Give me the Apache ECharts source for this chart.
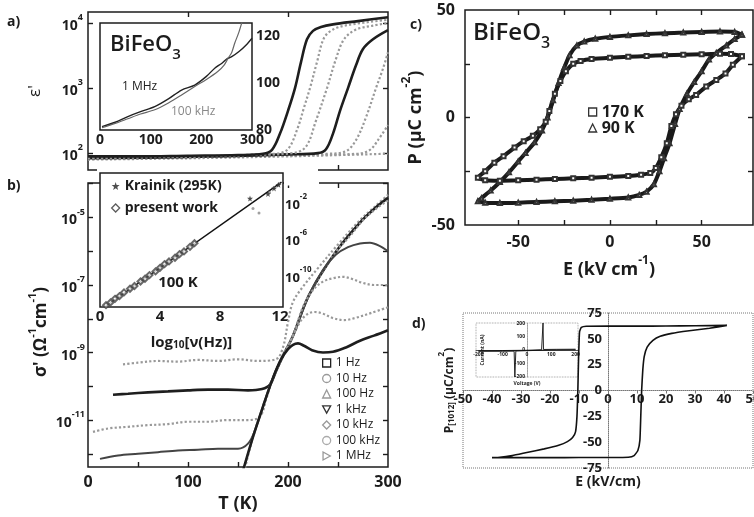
<!DOCTYPE html>
<html>
<head>
<meta charset="utf-8">
<script src="https://cdn.jsdelivr.net/npm/echarts@6/dist/echarts.min.js"></script>
<style>
html, body { margin: 0; padding: 0; background: #fff; }
#main { width: 754px; height: 517px; }
</style>
</head>
<body>
<div id="main"></div>
<script>
// ---- a) eps' vs T, pairs are [T (K), log10 eps'] ----
var eps1Hz = [[0,1.95],[50,1.95],[100,1.96],[150,1.97],[175,1.99],[184,2.05],[192,2.3],[200,2.65],[207,3.0],[213,3.4],[219,3.75],[225,3.88],[233,3.94],[245,3.98],[270,4.03],[300,4.09]];
var eps10Hz = [[0,1.93],[60,1.94],[120,1.95],[170,1.98],[192,2.0],[201,2.08],[210,2.4],[216,2.7],[222,3.0],[229,3.4],[236,3.77],[245,3.9],[260,3.97],[300,4.05]];
var eps100Hz = [[0,1.92],[80,1.94],[160,1.97],[205,2.0],[218,2.1],[228,2.5],[239,3.0],[248,3.45],[256,3.75],[268,3.9],[285,3.96],[300,4.0]];
var eps1kHz = [[0,1.92],[100,1.94],[200,1.98],[230,2.0],[238,2.06],[245,2.3],[252,2.65],[260,3.0],[268,3.35],[275,3.6],[285,3.75],[300,3.89]];
var eps10kHz = [[0,1.91],[120,1.94],[240,1.99],[258,2.03],[268,2.2],[278,2.55],[288,3.0],[295,3.3],[300,3.55]];
var eps100kHz = [[0,1.91],[150,1.95],[270,1.99],[282,2.05],[290,2.2],[300,2.43]];
var eps1MHz = [[0,1.9],[100,1.92],[200,1.95],[300,1.99]];

// inset of a): eps' (linear) vs T
var inset1MHz = [[4,81.4],[30,83.3],[55,85.7],[80,87.8],[108,89.9],[135,93.2],[161,97],[187,99.1],[210,102.8],[227,106.4],[240,108.3],[250,110.2],[260,111.2],[275,113.5],[290,116.5],[300,119]];
var inset100kHz = [[4,81.0],[30,82.8],[55,84.8],[80,86.8],[108,88.6],[135,91.5],[161,94.9],[187,98.5],[210,101.5],[233,105],[245,107.6],[253,110.6],[260,113],[266,117],[274,121.5],[281,126.5]];

// ---- b) sigma' vs T, pairs are [T (K), log10 sigma'] ----
var sig1Hz = [[155,-12.5],[165,-11.5],[175,-10.6],[185,-9.75],[193,-9.2],[200,-8.9],[205,-8.77],[210,-8.73],[216,-8.8],[224,-8.93],[235,-9.0],[245,-8.98],[258,-8.85],[272,-8.65],[286,-8.5],[300,-8.34]];
var sig10Hz = [[156,-12.45],[165,-11.5],[175,-10.6],[185,-9.75],[195,-9.1],[205,-8.5],[213,-8.05],[220,-7.85],[227,-7.8],[235,-7.85],[245,-7.98],[256,-8.04],[268,-7.97],[284,-7.82],[300,-7.66]];
var sig100Hz = [[157,-12.42],[165,-11.5],[175,-10.6],[185,-9.75],[195,-9.1],[205,-8.5],[215,-7.65],[225,-7.15],[235,-6.9],[245,-6.8],[255,-6.76],[264,-6.82],[274,-6.93],[286,-7.0],[300,-7.0]];
var sig1kHz = [[12,-12.15],[30,-12.05],[50,-12.0],[70,-11.95],[90,-11.9],[110,-11.88],[130,-11.85],[150,-11.85],[160,-11.7],[167,-11.3],[175,-10.6],[185,-9.75],[195,-9.1],[205,-8.5],[221,-7.3],[235,-6.55],[248,-6.1],[260,-5.88],[272,-5.77],[282,-5.75],[292,-5.85],[300,-6.0]];
var sig10kHz = [[5,-11.35],[20,-11.25],[40,-11.2],[60,-11.15],[80,-11.12],[100,-11.05],[120,-11.05],[140,-11.0],[160,-11.0],[172,-10.9],[178,-10.4],[185,-9.75],[195,-9.1],[205,-8.5],[221,-7.3],[247,-6.05],[262,-5.55],[276,-5.05],[290,-4.7],[300,-4.5]];
var sig100kHz = [[25,-10.25],[40,-10.22],[60,-10.18],[80,-10.15],[100,-10.12],[120,-10.1],[140,-10.1],[160,-10.12],[174,-10.08],[182,-9.95],[188,-9.55],[195,-9.1],[205,-8.5],[221,-7.3],[247,-6.05],[272,-5.15],[288,-4.7],[300,-4.42]];
var sig1MHz = [[35,-9.35],[50,-9.3],[70,-9.25],[90,-9.27],[110,-9.22],[130,-9.25],[150,-9.2],[170,-9.25],[188,-9.2],[195,-8.85],[200,-8.1],[205,-7.5],[215,-7.05],[230,-6.5],[250,-5.8],[272,-5.08],[288,-4.65],[300,-4.33]];

// inset of b): [log10 nu, log10 sigma'] at 100 K
var fitLine = [[0.3,-13.5],[12.1,0.2]];
var presentWork = [[0.4,-13.3],[0.7,-13.0],[1.0,-12.6],[1.3,-12.3],[1.6,-11.9],[2.0,-11.5],[2.3,-11.2],[2.7,-10.7],[3.0,-10.4],[3.3,-10.0],[3.7,-9.6],[4.0,-9.2],[4.3,-8.8],[4.6,-8.5],[5.0,-8.1],[5.3,-7.7],[5.6,-7.4],[6.0,-6.9],[6.3,-6.5]];
var presentWorkHf = [[10.2,-2.7],[10.6,-3.2],[11.3,-0.9],[11.6,-0.4],[11.9,0.0]];
var krainik = [[10.0,-1.6],[11.2,-1.1],[11.6,-0.5],[11.9,-0.1]];

// ---- c) P-E loops, [E (kV/cm), P (uC/cm2)] ----
var loop170K = [[72,28.5],[66,29.5],[60,29.6],[50,29.4],[40,29.2],[30,29],[20,28.6],[10,28.2],[0,27.8],[-10,27.2],[-16,26.3],[-20,25],[-24,21.5],[-27,17],[-30,11],[-33,3],[-35,-2],[-38,-5.5],[-42,-8.5],[-47,-11],[-52,-14],[-58,-18],[-63,-21],[-68,-25],[-72,-28],[-68,-29.2],[-60,-29.4],[-50,-29.2],[-40,-28.9],[-30,-28.6],[-20,-28.3],[-10,-28],[0,-27.6],[10,-27.2],[17,-26.6],[22,-25.8],[25,-23.5],[28,-18.5],[31,-12],[33.5,-4],[36,1.5],[39,5.5],[43,8.5],[47,10.5],[52.5,14.4],[58,17.5],[63,20.5],[67,24.5],[72,28.5]];
var loop90K = [[72,38.5],[68,39.8],[60,40],[50,39.8],[40,39.5],[30,39.2],[20,38.8],[10,38.2],[0,37.5],[-8,36.6],[-14,35.3],[-18,33.5],[-22,29],[-25,23],[-28,16],[-31,8],[-34,0],[-37,-6],[-41,-11.5],[-46,-16.5],[-50,-20.5],[-55,-25.5],[-60,-30],[-65,-34],[-70,-37.5],[-72,-39],[-68,-39.6],[-60,-39.8],[-50,-39.6],[-40,-39.3],[-30,-39],[-20,-38.7],[-10,-38.3],[0,-37.8],[10,-37.2],[16,-36],[20,-34.5],[24,-31],[27,-25],[29.5,-19],[32.5,-12],[35.5,-3],[38,4],[42,11],[46,16.5],[50,21.5],[54,27],[58,30],[63.5,33.5],[68,36.5],[72,38.5]];

// ---- d) P-E loop and I-V inset ----
var loopD = [[41,63],[30,62.6],[20,62.4],[10,62.3],[0,62.3],[-7.5,62.2],[-9.2,61],[-9.8,57],[-10,45],[-10.2,25],[-10.4,0],[-10.7,-25],[-11.2,-40],[-12.2,-45.5],[-14,-49.5],[-17,-53],[-22,-56.5],[-28,-60],[-33,-63],[-38,-64.8],[-40,-65],[-30,-65],[-20,-65],[-10,-64.9],[0,-64.8],[7,-64.6],[9,-63],[10.3,-58],[11,-48],[11.3,-25],[11.6,0],[12,20],[12.5,33],[13.5,42],[15.5,48.5],[18,52.5],[22,55.3],[28,57.8],[35,60.3],[41,63]];
var ivUp = [[-200,-6],[-100,-4],[0,-2],[60,2],[64,4],[66,205],[68,4],[120,5],[200,6]];
var ivDown = [[200,2],[100,0],[0,-5],[-46,-8],[-50,-205],[-53,-9],[-100,-10],[-200,-10]];

var F = '"Open Sans", "DejaVu Sans", sans-serif';
var INK = '#1c1c1c';

function txt(size, extra) {
  return Object.assign({fontFamily: F, fontWeight: 'bold', fontSize: size, color: INK}, extra || {});
}
function supRich(size) {
  return {
    n: txt(size, {lineHeight: size + 6, verticalAlign: 'bottom'}),
    s: txt(Math.round(size * 0.64), {lineHeight: Math.round(size * 0.64) + 1, verticalAlign: 'top'}),
    sub: txt(Math.round(size * 0.64), {lineHeight: Math.round(size * 0.64) + 1, verticalAlign: 'bottom'})
  };
}
function pow10(v) { return '{n|10}{s|' + v + '}'; }

function ax(grid, min, max, pos, ticks, labels, labelOpt) {
  var a = {
    type: 'value', gridIndex: grid, min: min, max: max, position: pos,
    axisLine: {show: false, onZero: false},
    splitLine: {show: false},
    axisTick: ticks ? {show: true, inside: true, length: 5, customValues: ticks, lineStyle: {color: INK, width: 1.4}} : {show: false},
    axisLabel: {show: false}
  };
  if (labels) {
    a.axisLabel = Object.assign(txt(15, {show: true, customValues: labels, margin: 6}), labelOpt || {});
  }
  return a;
}

function curve(name, data, xi, yi, dark) {
  return {
    type: 'line', name: name, data: data, xAxisIndex: xi, yAxisIndex: yi,
    showSymbol: false, symbol: 'none', smooth: 0.35,
    lineStyle: dark ? {color: '#1e1e1e', width: 2.6} : {color: '#999', width: 2.2, type: 'dotted'}
  };
}

function hollow(icon, c) {
  return {icon: icon, itemStyle: {color: '#fff', borderColor: c, borderWidth: 1.3}};
}

function box(left, top, width, height, extra) {
  return Object.assign({left: left, top: top, width: width, height: height, show: true,
    borderColor: INK, borderWidth: 1.5, backgroundColor: 'transparent',
    containLabel: false, outerBoundsMode: 'none'}, extra || {});
}

var chart = echarts.init(document.getElementById('main'));

var option = {
  animation: false,
  backgroundColor: '#fff',
  textStyle: {fontFamily: F},
  grid: [
    box(88, 12, 300, 158),
    box(100, 23, 152, 107, {backgroundColor: '#fff', z: 1}),
    box(88, 183, 300, 284),
    box(100, 173, 183, 134, {backgroundColor: '#fff', z: 1}),
    box(465, 10, 288, 215),
    box(463, 313, 290, 155, {borderColor: '#777', borderWidth: 1, borderType: 'dotted'}),
    box(476, 323, 102, 54, {borderColor: '#888', borderWidth: 0.8, borderType: 'dotted'})
  ],
  xAxis: [
    ax(0, 0, 300, 'bottom', [50, 100, 150, 200, 250], null),
    ax(0, 0, 300, 'top', [100, 200], null),
    ax(1, 0, 300, 'bottom', [50, 100, 150, 200, 250], [0, 100, 200, 300], {fontSize: 14, margin: 3}),
    Object.assign(ax(2, 0, 300, 'bottom', [50, 100, 150, 200, 250], [0, 100, 200, 300], {fontSize: 16, margin: 7}),
      {name: 'T (K)', nameLocation: 'middle', nameGap: 28, nameTextStyle: txt(18)}),
    ax(2, 0, 300, 'top', [50, 100, 150, 200, 250], null),
    Object.assign(ax(3, 0, 12.2, 'bottom', [4, 8], [0, 4, 8, 12], {fontSize: 15, margin: 2}),
      {name: '{n|log}{sub|10}{n|[ν(Hz)]}', nameLocation: 'middle', nameGap: 22, nameTextStyle: {rich: supRich(15)}}),
    Object.assign(ax(4, -79, 78, 'bottom', [-50, -25, 0, 25, 50], [-50, 0, 50], {fontSize: 16, margin: 9}),
      {name: '{n|E (kV cm}{s|-1}{n|)}', nameLocation: 'middle', nameGap: 30, nameTextStyle: {rich: supRich(18)}}),
    ax(4, -79, 78, 'top', [-50, -25, 0, 25, 50], null),
    {
      // d) axis drawn through P = 0 (grid middle)
      type: 'value', gridIndex: 5, min: -50, max: 50, interval: 10, position: 'bottom', offset: -77.5,
      axisLine: {show: true, onZero: false, lineStyle: {color: '#777', type: 'dotted', width: 1}},
      axisTick: {show: true, length: 3, lineStyle: {color: '#777'}},
      axisLabel: txt(13, {margin: 2}),
      splitLine: {show: false},
      name: 'E (kV/cm)', nameLocation: 'middle', nameGap: 85, nameTextStyle: txt(14)
    },
    {
      type: 'value', gridIndex: 6, min: -210, max: 210, position: 'bottom', offset: -27,
      axisLine: {show: true, onZero: false, lineStyle: {color: '#222', width: 0.8}},
      axisTick: {show: false},
      axisLabel: txt(5, {customValues: [-200, -100, 0, 100, 200], margin: 2}),
      splitLine: {show: false},
      name: 'Voltage (V)', nameLocation: 'middle', nameGap: 31, nameTextStyle: txt(5)
    }
  ],
  yAxis: [
    Object.assign(ax(0, 1.74, 4.17, 'left', [2, 3, 4], [2, 3, 4], {margin: 5, formatter: pow10, rich: supRich(14)}),
      {name: "ε'", nameLocation: 'middle', nameGap: 44, nameTextStyle: txt(17, {fontWeight: 'normal'})}),
    ax(0, 1.74, 4.17, 'right', [2, 3, 4], null),
    ax(1, 80, 125.5, 'right', [90, 100, 110, 120], [80, 100, 120], {fontSize: 14, margin: 4}),
    ax(1, 80, 125.5, 'left', [90, 100, 110, 120], null),
    Object.assign(ax(2, -12.39, -3.98, 'left', [-12, -11, -10, -9, -8, -7, -6, -5, -4], [-11, -9, -7, -5], {margin: 3, formatter: pow10, rich: supRich(14)}),
      {name: "{n|σ' (Ω}{s|-1}{n|cm}{s|-1}{n|)}", nameLocation: 'middle', nameGap: 38,
        nameTextStyle: {rich: supRich(17), padding: [0, 14, 0, 0]}}),
    ax(2, -12.39, -3.98, 'right', [-12, -11, -10, -9, -8, -7, -6, -5, -4], null),
    ax(3, -13.5, 1.2, 'right', [-10, -6, -2], [-10, -6, -2], {margin: 2, formatter: pow10, rich: supRich(13)}),
    Object.assign(ax(4, -50, 50, 'left', [-25, 0, 25], [-50, 0, 50], {fontSize: 16, margin: 10}),
      {name: '{n|P (μC cm}{s|-2}{n|)}', nameLocation: 'middle', nameGap: 40, nameTextStyle: {rich: supRich(18)}}),
    ax(4, -50, 50, 'right', [-25, 0, 25], null),
    {
      // d) axis drawn through E = 0 (grid middle)
      type: 'value', gridIndex: 5, min: -75, max: 75, interval: 25, position: 'left', offset: -145,
      axisLine: {show: true, onZero: false, lineStyle: {color: '#777', type: 'dotted', width: 1}},
      axisTick: {show: false},
      axisLabel: txt(13, {margin: 6}),
      splitLine: {show: false},
      name: '{n|P}{sub|[1012]}{n| (μC/cm}{s|2}{n|)}', nameLocation: 'middle', nameGap: 152, nameTextStyle: {rich: supRich(12)}
    },
    {
      type: 'value', gridIndex: 6, min: -205, max: 205, position: 'left', offset: -51,
      axisLine: {show: true, onZero: false, lineStyle: {color: '#888', type: 'dotted', width: 0.8}},
      axisTick: {show: false},
      axisLabel: txt(5, {customValues: [-200, -100, 0, 100, 200], margin: 2}),
      splitLine: {show: false},
      name: 'Current (nA)', nameLocation: 'middle', nameGap: 42, nameTextStyle: txt(5)
    }
  ],
  legend: [
    {
      left: 322, top: 356, orient: 'vertical', padding: 0, itemGap: 1.5, itemWidth: 8, itemHeight: 8,
      selectedMode: false, textStyle: txt(12, {fontWeight: 'normal', lineHeight: 14}),
      data: [
        Object.assign({name: '1 Hz'}, hollow('rect', '#222')),
        Object.assign({name: '10 Hz'}, hollow('circle', '#999')),
        Object.assign({name: '100 Hz'}, hollow('triangle', '#999')),
        Object.assign({name: '1 kHz'}, hollow('path://M0,0L10,0L5,9Z', '#333')),
        Object.assign({name: '10 kHz'}, hollow('diamond', '#999')),
        Object.assign({name: '100 kHz'}, hollow('circle', '#aaa')),
        Object.assign({name: '1 MHz'}, hollow('path://M0,0L9,5L0,10Z', '#999'))
      ]
    },
    {
      left: 588, top: 104, orient: 'vertical', padding: 0, itemGap: 0, itemWidth: 8, itemHeight: 8,
      selectedMode: false, textStyle: txt(16, {lineHeight: 16}),
      data: [
        Object.assign({name: '170 K'}, hollow('rect', '#333')),
        Object.assign({name: '90 K'}, hollow('triangle', '#333'))
      ]
    },
    {
      left: 111, top: 178, orient: 'vertical', padding: 0, itemGap: 6, itemWidth: 8, itemHeight: 8,
      selectedMode: false, textStyle: txt(14, {lineHeight: 16}),
      data: [
        {name: 'Krainik (295K)', icon: 'path://M5,0L6.2,3.6L10,3.8L7,6.1L8.1,10L5,7.7L1.9,10L3,6.1L0,3.8L3.8,3.6Z', itemStyle: {color: '#222'}},
        Object.assign({name: 'present work'}, hollow('diamond', '#333'))
      ]
    }
  ],
  graphic: [
    {type: 'rect', z: 100, shape: {x: 97, y: 165, width: 221, height: 6.5}, style: {fill: '#fff'}},
    {type: 'rect', z: 100, shape: {x: 284, y: 181, width: 35, height: 4.5}, style: {fill: '#fff'}},
    {type: 'text', z: 100, x: 7, y: 22, style: {text: 'a)', fontFamily: F, fontWeight: 'bold', fontSize: 14, fill: INK, verticalAlign: 'middle'}},
    {type: 'text', z: 100, x: 7, y: 186, style: {text: 'b)', fontFamily: F, fontWeight: 'bold', fontSize: 14, fill: INK, verticalAlign: 'middle'}},
    {type: 'text', z: 100, x: 410, y: 25, style: {text: 'c)', fontFamily: F, fontWeight: 'bold', fontSize: 14, fill: INK, verticalAlign: 'middle'}},
    {type: 'text', z: 100, x: 412, y: 324, style: {text: 'd)', fontFamily: F, fontWeight: 'bold', fontSize: 14, fill: INK, verticalAlign: 'middle'}},
    {type: 'text', z: 100, x: 110, y: 48, style: {text: '{a|BiFeO}{b|3}', verticalAlign: 'middle',
      rich: {a: {fontFamily: F, fontWeight: 600, fontSize: 22, fill: INK, lineHeight: 28, verticalAlign: 'top'}, b: {fontFamily: F, fontWeight: 600, fontSize: 15, fill: INK, lineHeight: 15, verticalAlign: 'bottom'}}}},
    {type: 'text', z: 100, x: 473, y: 36, style: {text: '{a|BiFeO}{b|3}', verticalAlign: 'middle',
      rich: {a: {fontFamily: F, fontWeight: 600, fontSize: 24, fill: INK, lineHeight: 30, verticalAlign: 'top'}, b: {fontFamily: F, fontWeight: 600, fontSize: 16, fill: INK, lineHeight: 16, verticalAlign: 'bottom'}}}},
    {type: 'text', z: 100, x: 122, y: 87, style: {text: '1 MHz', fontFamily: F, fontSize: 12, fill: '#222', verticalAlign: 'middle'}},
    {type: 'text', z: 100, x: 171, y: 112, style: {text: '100 kHz', fontFamily: F, fontSize: 12, fill: '#888', verticalAlign: 'middle'}},
    {type: 'text', z: 100, x: 178, y: 283, style: {text: '100 K', fontFamily: F, fontWeight: 'bold', fontSize: 15, fill: INK, align: 'center', verticalAlign: 'middle'}}
  ],
  series: [
    // a) main
    curve('a 1 MHz', eps1MHz, 0, 0, false),
    curve('a 100 kHz', eps100kHz, 0, 0, false),
    curve('a 10 kHz', eps10kHz, 0, 0, false),
    curve('a 1 kHz', eps1kHz, 0, 0, true),
    curve('a 100 Hz', eps100Hz, 0, 0, false),
    curve('a 10 Hz', eps10Hz, 0, 0, false),
    curve('a 1 Hz', eps1Hz, 0, 0, true),
    // a) inset
    {type: 'line', name: 'inset 1 MHz', data: inset1MHz, xAxisIndex: 2, yAxisIndex: 2, showSymbol: false, smooth: 0.3, z: 5, lineStyle: {color: '#222', width: 1.4}},
    {type: 'line', name: 'inset 100 kHz', data: inset100kHz, xAxisIndex: 2, yAxisIndex: 2, showSymbol: false, smooth: 0.3, z: 5, lineStyle: {color: '#666', width: 1.2}},
    // b) main
    curve('1 MHz', sig1MHz, 3, 4, false),
    curve('100 kHz', sig100kHz, 3, 4, true),
    curve('10 kHz', sig10kHz, 3, 4, false),
    Object.assign(curve('1 kHz', sig1kHz, 3, 4, true), {lineStyle: {color: '#444', width: 2}}),
    curve('100 Hz', sig100Hz, 3, 4, false),
    curve('10 Hz', sig10Hz, 3, 4, false),
    curve('1 Hz', sig1Hz, 3, 4, true),
    // b) inset
    {type: 'line', name: 'fit', data: fitLine, xAxisIndex: 5, yAxisIndex: 6, showSymbol: false, z: 5, lineStyle: {color: '#111', width: 1.5}},
    {type: 'scatter', name: 'present work', data: presentWork, xAxisIndex: 5, yAxisIndex: 6, symbol: 'emptyDiamond', symbolSize: 6, z: 6, itemStyle: {color: '#444'}},
    {type: 'scatter', name: 'present work', data: presentWorkHf, xAxisIndex: 5, yAxisIndex: 6, symbol: 'circle', symbolSize: 3, z: 6, itemStyle: {color: '#888'}},
    {type: 'scatter', name: 'Krainik (295K)', data: krainik, xAxisIndex: 5, yAxisIndex: 6, symbol: 'path://M5,0L6.2,3.6L10,3.8L7,6.1L8.1,10L5,7.7L1.9,10L3,6.1L0,3.8L3.8,3.6Z', symbolSize: 6, z: 6, itemStyle: {color: '#222'}},
    // c)
    {type: 'line', name: '90 K', data: loop90K, xAxisIndex: 6, yAxisIndex: 7, smooth: 0.2, symbol: 'emptyTriangle', symbolSize: 4, showSymbol: true,
      lineStyle: {color: '#1a1a1a', width: 4}, itemStyle: {color: '#333', borderWidth: 1}},
    {type: 'line', name: '170 K', data: loop170K, xAxisIndex: 6, yAxisIndex: 7, smooth: 0.2, symbol: 'emptyRect', symbolSize: 4, showSymbol: true,
      lineStyle: {color: '#1a1a1a', width: 4}, itemStyle: {color: '#333', borderWidth: 1}},
    // d)
    {type: 'line', name: 'loop d', data: loopD, xAxisIndex: 8, yAxisIndex: 9, showSymbol: false, smooth: 0.15, lineStyle: {color: '#111', width: 1.6}},
    {type: 'line', name: 'iv up', data: ivUp, xAxisIndex: 9, yAxisIndex: 10, showSymbol: false, lineStyle: {color: '#111', width: 0.9}},
    {type: 'line', name: 'iv down', data: ivDown, xAxisIndex: 9, yAxisIndex: 10, showSymbol: false, lineStyle: {color: '#111', width: 0.9}}
  ]
};

chart.setOption(option);
</script>
</body>
</html>
